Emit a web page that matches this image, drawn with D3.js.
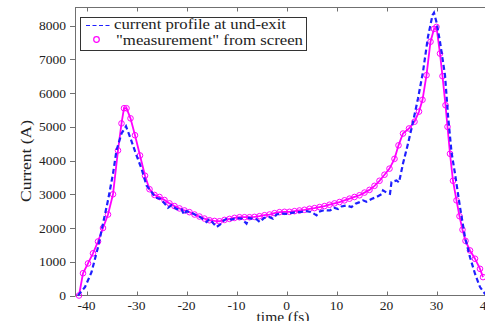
<!DOCTYPE html>
<html><head><meta charset="utf-8">
<script src="https://cdn.jsdelivr.net/npm/d3@7"></script>
<style>body{margin:0;background:#fff}svg{display:block}text{font-family:"Liberation Serif","Times New Roman",serif;fill:#222}</style>
</head><body>
<script>
// Simulation: current profile at undulator exit (blue dashed)
const simTime = [-41.7,-40.3,-39,-37.7,-36.7,-35.7,-34.7,-34,-33,-32.1,-31.3,-30,-29,-28,-27,-26.2,-25.3,-24.5,-23.7,-23,-22,-21,-20.5,-20,-19,-18,-17,-16,-15.5,-15,-14,-13,-12.5,-12,-11,-10,-9,-8,-7.5,-7,-6,-5.3,-4.5,-3.5,-2.7,-2,-1,0,1,2,3,4,5,6,6.5,7.5,8.7,9.5,10.3,11,12,13,13.8,14.5,15.3,16,17,18,19,19.3,20,20.7,21,22,22.5,23.3,24.3,25.3,26.3,27.3,28.3,29.2,29.5,30,30.7,31.7,32.3,33,33.7,34.7,35.7,36.7,37.7,38.7,39.7,41];
const simCurrent = [0,250,690,1430,2130,2820,3610,4300,4800,5015,4700,4150,3760,3260,3070,2900,2870,2750,2600,2680,2560,2560,2400,2500,2450,2380,2300,2175,2250,2200,2030,2130,2230,2270,2250,2300,2280,2130,2300,2280,2260,2175,2300,2330,2275,2400,2430,2420,2450,2470,2480,2500,2470,2375,2480,2530,2520,2600,2560,2640,2670,2620,2720,2760,2820,2780,2860,2920,3000,3115,3050,3015,3360,3410,3350,3910,4500,5140,5840,6630,7670,8310,8380,8100,7520,6530,5340,4250,3610,2620,1730,1135,645,250,50,0];
// "Measurement" from screen (magenta with circles)
const measTime = [-41.5,-40.7,-39.7,-38.7,-37.7,-36.7,-35.7,-34.7,-33.7,-33.0,-32.5,-32.0,-31.2,-30.3,-29.3,-28.3,-27.4,-26.4,-25.4,-24.4,-23.4,-22.4,-21.4,-20.4,-19.4,-18.4,-17.4,-16.4,-15.4,-14.4,-13.4,-12.4,-11.4,-10.4,-9.4,-8.4,-7.4,-6.4,-5.4,-4.4,-3.4,-2.4,-1.4,-0.4,0.6,1.6,2.6,3.6,4.6,5.6,6.6,7.6,8.6,9.6,10.6,11.6,12.6,13.6,14.6,15.6,16.6,17.6,18.6,19.6,20.6,21.6,22.4,23.3,24.5,25.6,26.5,27.2,28.0,28.8,29.5,30.0,30.7,31.2,31.8,32.2,32.7,33.3,34.0,34.6,35.2,35.8,36.7,37.7,38.7,39.3];
const measCurrent = [0,660,950,1250,1600,2000,2400,3000,4300,5100,5550,5550,5250,4750,4150,3550,3150,2980,2920,2830,2730,2650,2580,2520,2470,2400,2340,2280,2230,2210,2200,2240,2270,2300,2320,2320,2320,2330,2350,2380,2400,2440,2470,2480,2480,2500,2520,2540,2570,2590,2620,2650,2690,2730,2770,2820,2870,2920,2970,3050,3130,3250,3400,3580,3760,4050,4450,4800,4950,5150,5450,5800,6530,7520,7900,7960,7170,6500,5640,5000,4200,3400,2820,2350,1950,1620,1335,1090,790,545];
const xTicks = [-40,-30,-20,-10,0,10,20,30,40];
const yTicks = [0,1000,2000,3000,4000,5000,6000,7000,8000];
const legendLabels = ["current profile at und-exit", "\"measurement\" from screen"];

const W = 485, H = 321;
const svg = d3.select("body").append("svg").attr("width", W).attr("height", H);
const x = d3.scaleLinear().domain([-42.2, 42.2]).range([75.5, 497.5]);
const y = d3.scaleLinear().domain([0, 8550]).range([295.5, 7]);

const frame = "#707070";
// frame
svg.append("line").attr("x1", x.range()[0]).attr("x2", W).attr("y1", 295.5).attr("y2", 295.5).attr("stroke", frame);
svg.append("line").attr("x1", x.range()[0]).attr("x2", W).attr("y1", 7.5).attr("y2", 7.5).attr("stroke", frame);
svg.append("line").attr("x1", 75.5).attr("x2", 75.5).attr("y1", 7).attr("y2", 296).attr("stroke", frame);

// x ticks (inward, bottom and top)
const gx = svg.append("g");
xTicks.forEach(t => {
  const xp = Math.round(x(t)) + 0.5;
  gx.append("line").attr("x1", xp).attr("x2", xp).attr("y1", 295.5).attr("y2", 291.5).attr("stroke", frame);
  gx.append("line").attr("x1", xp).attr("x2", xp).attr("y1", 7.5).attr("y2", 11.5).attr("stroke", frame);
  gx.append("text").attr("x", x(t)).attr("y", 310).attr("text-anchor", "middle")
    .attr("font-size", 13.5).text(t < 0 ? "-" + Math.abs(t) : String(t));
});
// y ticks
const gy = svg.append("g");
yTicks.forEach(v => {
  const yp = Math.round(y(v)) + 0.5;
  gy.append("line").attr("x1", 70).attr("x2", 75.5).attr("y1", yp).attr("y2", yp).attr("stroke", frame);
  gy.append("text").attr("x", 66).attr("y", y(v) + 4.5).attr("text-anchor", "end")
    .attr("font-size", 13.5).text(v);
});

// axis titles
svg.append("text").attr("x", 283).attr("y", 322).attr("text-anchor", "middle").attr("font-size", 15.5).text("time (fs)");
svg.append("text").attr("transform", "translate(31,161) rotate(-90)").attr("text-anchor", "middle")
  .attr("font-size", 15).attr("textLength", 82).attr("lengthAdjust", "spacingAndGlyphs").text("Current (A)");

// data
const clip = svg.append("clipPath").attr("id", "c").append("rect").attr("x", 70).attr("y", 0).attr("width", 420).attr("height", 300);
const sim = simTime.map((t, i) => [t, simCurrent[i]]);
const meas = measTime.map((t, i) => [t, measCurrent[i]]);
const line = d3.line().x(d => x(d[0])).y(d => y(d[1]));
const blue = "#1f1fff", mag = "#ff00ff";
const plot = svg.append("g").attr("clip-path", "url(#c)");
plot.append("path").attr("d", line(meas)).attr("fill", "none").attr("stroke", mag).attr("stroke-width", 1.8);
plot.selectAll("circle.m").data(meas).enter().append("circle")
  .attr("cx", d => x(d[0])).attr("cy", d => y(d[1])).attr("r", 2.8)
  .attr("fill", "none").attr("stroke", mag).attr("stroke-width", 1);
plot.append("path").attr("d", line(sim)).attr("fill", "none").attr("stroke", blue)
  .attr("stroke-width", 2.2).attr("stroke-dasharray", "5,3");

// legend
const lg = svg.append("g");
lg.append("rect").attr("x", 80.5).attr("y", 17.5).attr("width", 226).attr("height", 33)
  .attr("fill", "#fff").attr("stroke", "#333").attr("stroke-width", 1);
lg.append("line").attr("x1", 86).attr("x2", 112).attr("y1", 25.5).attr("y2", 25.5)
  .attr("stroke", blue).attr("stroke-width", 1.2).attr("stroke-dasharray", "4,2.5");
lg.append("text").attr("x", 114).attr("y", 29).attr("font-size", 15.5)
  .attr("textLength", 172).attr("lengthAdjust", "spacingAndGlyphs").text(legendLabels[0]);
lg.append("circle").attr("cx", 96.5).attr("cy", 39.5).attr("r", 2.8).attr("fill", "none").attr("stroke", mag).attr("stroke-width", 1.2);
lg.append("text").attr("x", 116).attr("y", 45).attr("font-size", 15.5)
  .attr("textLength", 187).attr("lengthAdjust", "spacingAndGlyphs").text(legendLabels[1]);
</script>
</body></html>
